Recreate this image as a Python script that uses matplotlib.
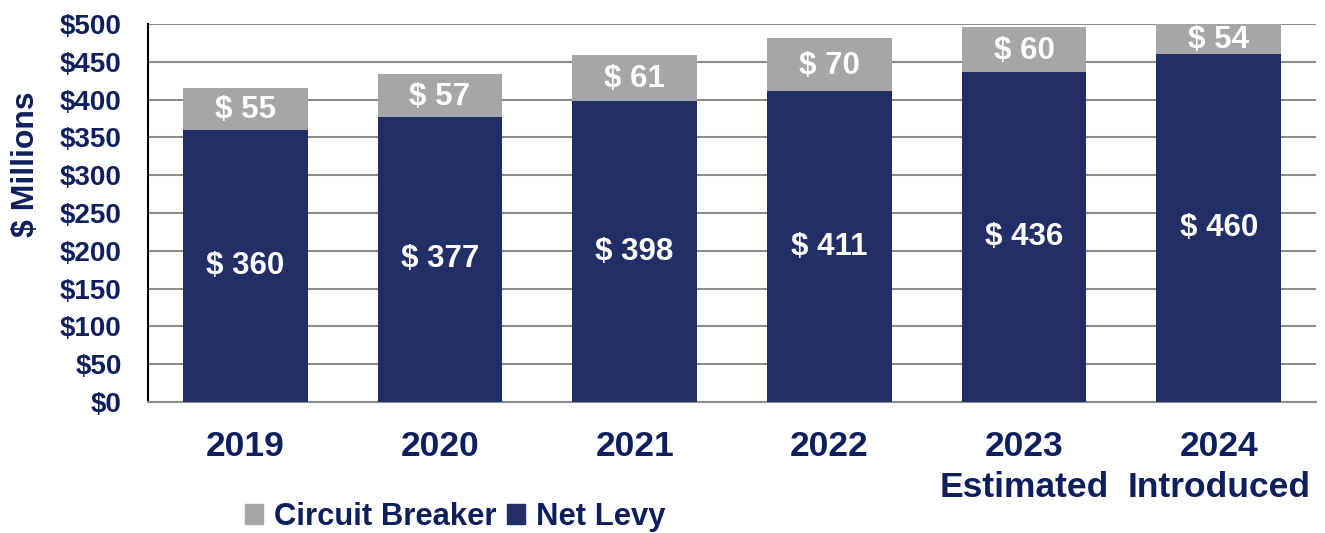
import matplotlib.pyplot as plt
import numpy as np
from matplotlib.patches import Patch

plt.rcParams['font.family'] = ['Liberation Sans', 'DejaVu Sans']
plt.rcParams['font.weight'] = 'bold'

# Data ($ millions)
years = ['2019', '2020', '2021', '2022', '2023\nEstimated', '2024\nIntroduced']
net_levy = [360, 377, 398, 411, 436, 460]
circuit_breaker = [55, 57, 61, 70, 60, 54]
y_ticks = [0, 50, 100, 150, 200, 250, 300, 350, 400, 450, 500]

COLORS = {
    'navy': '#222F66',
    'gray': '#A6A6A9',
    'text': '#0E1F5E',
    'grid': '#8C8C8C',
}

fig = plt.figure(figsize=(13.25, 5.33), dpi=100, facecolor='white')
ax = fig.add_axes([0.1117, 0.2458, 0.8815, 0.7092])

x = np.arange(len(years))
bar_w = 0.64
ymax = 500

ax.bar(x, net_levy, bar_w, color=COLORS['navy'], zorder=3)
ax.bar(x, circuit_breaker, bar_w, bottom=net_levy, color=COLORS['gray'], zorder=3)

# Value labels inside the segments (gray label sits in the visible part)
for xi, nl, cb in zip(x, net_levy, circuit_breaker):
    ax.text(xi, nl / 2, f'$ {nl}', ha='center', va='center', color='white',
            fontsize=22.5, fontweight='bold', zorder=4)
    top = min(nl + cb, ymax)
    ax.text(xi, (nl + top) / 2 - 1.5, f'$ {cb}', ha='center', va='center', color='white',
            fontsize=22.5, fontweight='bold', zorder=4)

ax.set_xlim(-0.5, len(years) - 0.5)
ax.set_ylim(0, ymax)
ax.set_yticks(y_ticks)
ax.set_yticklabels([f'${v}' for v in y_ticks], fontsize=20, fontweight='bold',
                   color=COLORS['text'])
ax.set_xticks(x)
ax.set_xticklabels(years, fontsize=25.5, fontweight='bold', color=COLORS['text'],
                   linespacing=1.3)
ax.tick_params(axis='both', length=0)
ax.tick_params(axis='x', pad=20)
ax.tick_params(axis='y', pad=19)

ax.yaxis.grid(True, color=COLORS['grid'], linewidth=1.5, zorder=0)
ax.set_axisbelow(True)
for side in ['top', 'right']:
    ax.spines[side].set_visible(False)
ax.spines['left'].set_color('black')
ax.spines['left'].set_linewidth(1.5)
ax.spines['bottom'].set_color(COLORS['grid'])
ax.spines['bottom'].set_linewidth(1.5)

ax.set_ylabel('$ Millions', fontsize=23, fontweight='bold', color=COLORS['text'])
ax.yaxis.set_label_coords(-0.092, 0.63)

handles = [Patch(color=COLORS['gray'], label='Circuit Breaker'),
           Patch(color=COLORS['navy'], label='Net Levy')]
leg = fig.legend(handles=handles, loc='center left', bbox_to_anchor=(0.164, 0.03),
                 ncol=2, frameon=False, handlelength=0.58, handleheight=0.58,
                 handletextpad=0.35, columnspacing=0.35,
                 prop={'size': 22.3, 'weight': 'bold'})
for t in leg.get_texts():
    t.set_color(COLORS['text'])

fig.savefig('out.png', dpi=100, facecolor='white')
